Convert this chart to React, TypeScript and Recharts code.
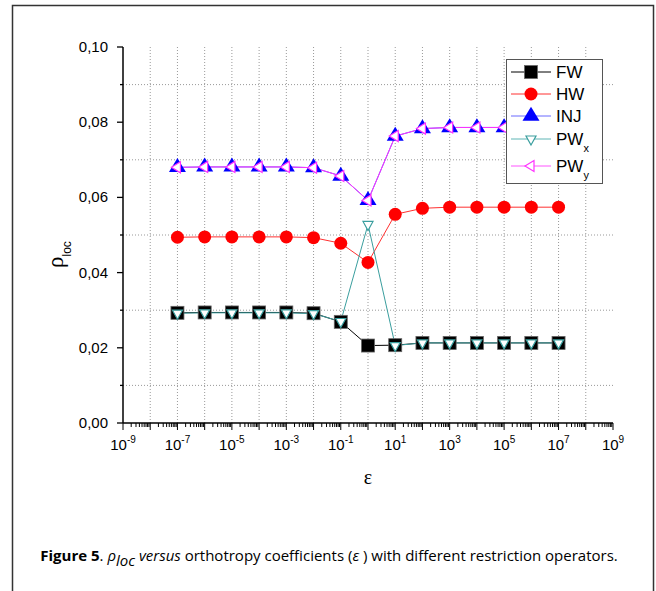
import React from "react";
import { LineChart, Line, XAxis, YAxis, CartesianGrid, Legend } from "recharts";

// orthotropy coefficient (x) and rho_loc per restriction operator
const epsilon = [1e-7, 1e-6, 1e-5, 1e-4, 1e-3, 1e-2, 1e-1, 1e0, 1e1, 1e2, 1e3, 1e4, 1e5, 1e6, 1e7];
const FW = [0.0293, 0.0294, 0.0294, 0.0294, 0.0294, 0.0292, 0.0269, 0.0206, 0.0207, 0.0213, 0.0213, 0.0213, 0.0213, 0.0213, 0.0213];
const HW = [0.0494, 0.0495, 0.0495, 0.0495, 0.0495, 0.0493, 0.0478, 0.0427, 0.0555, 0.0571, 0.0574, 0.0574, 0.0574, 0.0574, 0.0574];
const INJ = [0.068, 0.0681, 0.0681, 0.0681, 0.0681, 0.0679, 0.0657, 0.0592, 0.0763, 0.0783, 0.0786, 0.0786, 0.0786, 0.0786, 0.0786];
const PWx = [0.0292, 0.0293, 0.0293, 0.0293, 0.0293, 0.0291, 0.027, 0.0528, 0.0206, 0.0213, 0.0213, 0.0213, 0.0213, 0.0213, 0.0213];
const PWy = [0.068, 0.0681, 0.0681, 0.0681, 0.0681, 0.0679, 0.0657, 0.0592, 0.0763, 0.0783, 0.0786, 0.0786, 0.0786, 0.0786, 0.0786];

const seriesNames = ["FW", "HW", "INJ", "PWx", "PWy"];

const decadeExponents = [-9, -8, -7, -6, -5, -4, -3, -2, -1, 0, 1, 2, 3, 4, 5, 6, 7, 8, 9];
const minorSteps = [1, 2, 3, 4, 5, 6, 7, 8, 9];
const yTicks = [0, 0.01, 0.02, 0.03, 0.04, 0.05, 0.06, 0.07, 0.08, 0.09, 0.1];
const yGridValues = [0.01, 0.03, 0.05, 0.07, 0.09];
const xGridValues = [1e-8, 1e-7, 1e-6, 1e-5, 1e-4, 1e-3, 1e-2, 1e-1, 1e0, 1e1, 1e2, 1e3, 1e4, 1e5, 1e6, 1e7, 1e8];

const xTicks = decadeExponents
  .slice(0, -1)
  .flatMap((e) => minorSteps.map((k) => k * Math.pow(10, e)))
  .concat([1e9]);

const data = epsilon.map((eps, i) => ({
  eps,
  FW: FW[i],
  HW: HW[i],
  INJ: INJ[i],
  PWx: PWx[i],
  PWy: PWy[i],
}));

const TICK_FONT = "'Liberation Sans', Arial, sans-serif";
const AXIS = { stroke: "#000", strokeWidth: 1.5 };

const decadeOf = (v: number) => {
  const l = Math.log10(v);
  const e = Math.round(l);
  return { e, major: Math.abs(l - e) < 1e-6 };
};

function BottomTick({ x, y, payload }: any) {
  const { e, major } = decadeOf(payload.value);
  return (
    <g>
      <line x1={x} x2={x} y1={y} y2={y + (major ? 7 : 4)} stroke="#000" />
      {major && e % 2 !== 0 && (
        <text x={x} y={y + 27} textAnchor="middle" fontFamily={TICK_FONT} fontSize={15} fill="#000">
          10<tspan dy={-7} fontSize={10}>{e}</tspan>
        </text>
      )}
    </g>
  );
}

function TopTick({ x, y, payload }: any) {
  const { major } = decadeOf(payload.value);
  return <line x1={x} x2={x} y1={y} y2={y + (major ? 7 : 4)} stroke="#000" />;
}

function LeftTick({ x, y, payload }: any) {
  const major = Math.round(payload.value * 100) % 2 === 0;
  return (
    <g>
      <line x1={x - (major ? 6 : 3)} x2={x} y1={y} y2={y} stroke="#000" strokeWidth={1.3} />
      {major && (
        <text x={x - 15} y={y + 5} textAnchor="end" fontFamily={TICK_FONT} fontSize={15} fill="#000">
          {payload.value.toFixed(2).replace(".", ",")}
        </text>
      )}
    </g>
  );
}

function RightTick({ x, y, payload }: any) {
  const major = Math.round(payload.value * 100) % 2 === 0;
  return <line x1={x - (major ? 6 : 3)} x2={x} y1={y} y2={y} stroke="#000" strokeWidth={1.3} />;
}

// markers
const Square = ({ cx, cy, s = 13 }: any) => (
  <rect x={cx - s / 2} y={cy - s / 2} width={s} height={s} fill="#000" stroke="#666" strokeWidth={0.8} />
);
const Circle = ({ cx, cy, r = 6.5 }: any) => <circle cx={cx} cy={cy} r={r} fill="#ff0000" />;
const TriUp = ({ cx, cy, w = 17, h = 14 }: any) => (
  <path d={`M${cx},${cy - (2 * h) / 3}L${cx + w / 2},${cy + h / 3}L${cx - w / 2},${cy + h / 3}Z`} fill="#0000ff" />
);
const TriDown = ({ cx, cy, w = 10, h = 9 }: any) => (
  <path
    d={`M${cx},${cy + (2 * h) / 3}L${cx + w / 2},${cy - h / 3}L${cx - w / 2},${cy - h / 3}Z`}
    fill="#fff"
    stroke="#3a9e9e"
    strokeWidth={1.2}
  />
);
const TriLeft = ({ cx, cy, w = 9, h = 11 }: any) => (
  <path
    d={`M${cx - (2 * w) / 3},${cy}L${cx + w / 3},${cy - h / 2}L${cx + w / 3},${cy + h / 2}Z`}
    fill="#fff"
    stroke="#ff33ff"
    strokeWidth={1.2}
  />
);

const dotOf = (Marker: any, id: string) => (p: any) => <Marker key={`${id}-${p.index}`} cx={p.cx} cy={p.cy} />;

const legendStyle: Record<string, { line: string; marker: any }> = {
  FW: { line: "#000", marker: Square },
  HW: { line: "#ff3030", marker: Circle },
  INJ: { line: "#6b6bff", marker: TriUp },
  PWx: { line: "#5fb5b5", marker: TriDown },
  PWy: { line: "#ff55ff", marker: TriLeft },
};
const legendRowY = [13, 35, 57, 80, 107];

function LegendBox() {
  return (
    <svg width={97} height={125} style={{ display: "block" }}>
      <rect x={0.5} y={0.5} width={96} height={124} fill="#fff" stroke="#555" />
      {seriesNames.map((name, i) => {
        const cfg = legendStyle[name];
        const M = cfg.marker;
        const cy = legendRowY[i];
        const sub = name.startsWith("PW") ? name.slice(2) : "";
        return (
          <g key={name}>
            <line x1={5} x2={45} y1={cy} y2={cy} stroke={cfg.line} />
            <M cx={25} cy={cy} />
            <text x={50} y={cy + 6} fontFamily={TICK_FONT} fontSize={17} fill="#000">
              {sub ? "PW" : name}
              {sub && (
                <tspan dy={7} fontSize={11}>
                  {sub}
                </tspan>
              )}
            </text>
          </g>
        );
      })}
    </svg>
  );
}

export default function App() {
  return (
    <div style={{ position: "absolute", left: 0, top: 0, width: 656, height: 591, background: "#fff" }}>
      <svg width={656} height={591} style={{ position: "absolute", left: 0, top: 0 }}>
        <rect x={12.5} y={5.5} width={641} height={620} fill="none" stroke="#333" strokeWidth={1.5} />
        <text transform="translate(63,268) rotate(-90)" fill="#000">
          <tspan fontFamily="'Liberation Serif', serif" fontSize={23}>ρ</tspan>
          <tspan fontFamily={TICK_FONT} fontSize={12} dy={8}>loc</tspan>
        </text>
        <text x={368} y={484} textAnchor="middle" fontFamily="'Liberation Serif', serif" fontSize={20} fill="#000">
          ε
        </text>
        <text x={329} y={561} textAnchor="middle" fontFamily="'Open Sans', sans-serif" fontSize={15} fill="#000">
          <tspan fontWeight="bold">Figure 5</tspan>
          <tspan>. </tspan>
          <tspan fontStyle="italic">ρ</tspan>
          <tspan fontStyle="italic" dy={5}>loc</tspan>
          <tspan fontStyle="italic" dy={-5}> versus</tspan>
          <tspan> orthotropy coefficients (</tspan>
          <tspan fontStyle="italic">ε</tspan>
          <tspan> ) with different restriction operators.</tspan>
        </text>
      </svg>
      <div style={{ position: "absolute", left: 0, top: 0 }}>
        <LineChart width={656} height={591} data={data} margin={{ top: 47, right: 43, bottom: 128, left: 63 }}>
          <CartesianGrid
            horizontalValues={yGridValues}
            verticalValues={xGridValues}
            stroke="#999"
            strokeDasharray="1 2"
          />
          <XAxis
            dataKey="eps"
            type="number"
            scale="log"
            domain={[1e-9, 1e9]}
            allowDataOverflow
            ticks={xTicks}
            interval={0}
            tick={<BottomTick />}
            tickLine={false}
            tickSize={0}
            tickMargin={0}
            height={40}
            axisLine={AXIS}
          />
          <XAxis
            xAxisId="top"
            orientation="top"
            type="number"
            scale="log"
            domain={[1e-9, 1e9]}
            allowDataOverflow
            ticks={xTicks}
            interval={0}
            tick={<TopTick />}
            tickLine={false}
            tickSize={0}
            tickMargin={0}
            height={0}
            axisLine={AXIS}
          />
          <YAxis
            type="number"
            domain={[0, 0.1]}
            ticks={yTicks}
            interval={0}
            tick={<LeftTick />}
            tickLine={false}
            tickSize={0}
            tickMargin={0}
            width={60}
            axisLine={AXIS}
          />
          <YAxis
            yAxisId="right"
            orientation="right"
            type="number"
            domain={[0, 0.1]}
            ticks={yTicks}
            interval={0}
            tick={<RightTick />}
            tickLine={false}
            tickSize={0}
            tickMargin={0}
            width={0}
            axisLine={AXIS}
          />
          <Line dataKey="FW" stroke="#000" strokeWidth={1} dot={dotOf(Square, "fw")} activeDot={false} isAnimationActive={false} />
          <Line dataKey="HW" stroke="#ff3030" strokeWidth={1} dot={dotOf(Circle, "hw")} activeDot={false} isAnimationActive={false} />
          <Line dataKey="INJ" stroke="#5050ff" strokeWidth={1} dot={dotOf(TriUp, "inj")} activeDot={false} isAnimationActive={false} />
          <Line dataKey="PWx" stroke="#3a9e9e" strokeWidth={1} dot={dotOf(TriDown, "pwx")} activeDot={false} isAnimationActive={false} />
          <Line dataKey="PWy" stroke="#ff33ff" strokeWidth={1} dot={dotOf(TriLeft, "pwy")} activeDot={false} isAnimationActive={false} />
          <Legend
            layout="vertical"
            align="center"
            verticalAlign="middle"
            content={<LegendBox />}
            wrapperStyle={{ position: "absolute", left: 506, top: 59, width: 97, height: 125 }}
          />
        </LineChart>
      </div>
    </div>
  );
}
